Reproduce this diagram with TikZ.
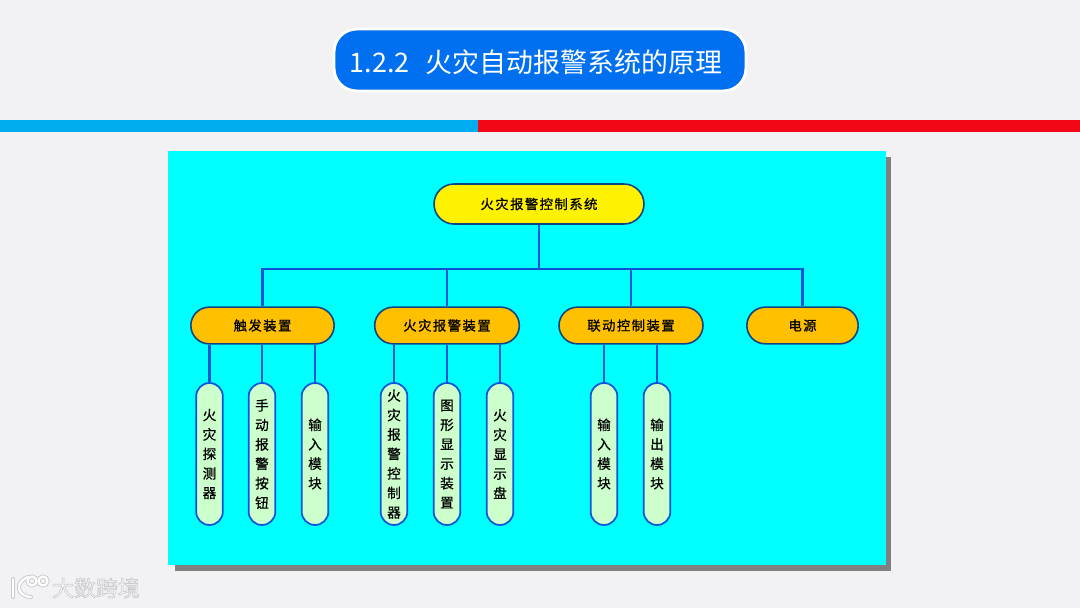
\documentclass[tikz,border=0pt]{standalone}
\usepackage{fontspec}
\usetikzlibrary{shapes.misc}
\setmainfont{Noto Sans CJK SC}
\newfontfamily\titlefont{Noto Sans CJK SC}
\newfontfamily\boxfont[LetterSpace=11,FakeBold=0.9]{Noto Sans CJK SC}
\newfontfamily\colfont[FakeBold=0.7]{Noto Sans CJK SC}
\definecolor{pagebg}{RGB}{242,242,245}
\definecolor{pillblue}{RGB}{0,112,240}
\definecolor{barblue}{RGB}{0,174,239}
\definecolor{barred}{RGB}{240,8,24}
\definecolor{panelcyan}{RGB}{0,255,255}
\definecolor{shadowgray}{RGB}{128,128,128}
\definecolor{linkblue}{RGB}{10,85,215}
\definecolor{edgedark}{RGB}{15,70,130}
\definecolor{amber}{RGB}{255,192,0}
\definecolor{palegreen}{RGB}{204,255,204}
\definecolor{halo}{RGB}{200,200,205}
\tikzset{
  link/.style={draw=linkblue,line width=1.6pt},
  pill/.style={rounded rectangle,draw=edgedark,line width=1.2pt,inner sep=0pt,text=black},
  rootbox/.style={pill,fill=yellow,minimum width=157.5pt,minimum height=30pt,font=\boxfont\fontsize{10pt}{12pt}\selectfont},
  midbox/.style={pill,fill=amber,minimum height=27.5pt,font=\boxfont\fontsize{10pt}{12pt}\selectfont},
  leafbox/.style={rounded rectangle,rotate=90,draw=linkblue,line width=1.3pt,fill=palegreen,minimum width=106.5pt,minimum height=20pt,inner sep=0pt},
  leaftext/.style={align=center,text=black,font=\colfont\fontsize{10.2pt}{14.6pt}\selectfont,inner sep=0pt},
}
\begin{document}
\begin{tikzpicture}[x=0.75pt,y=-0.75pt]
\useasboundingbox (0,0) rectangle (1080,608);
\fill[pagebg] (0,0) rectangle (1080,608);
% title
\node[rounded corners=17pt,fill=pillblue,draw=white,line width=2.2pt,minimum width=309pt,minimum height=46.5pt,inner sep=0pt] (title) at (540,60) {};
\node[text=white,font=\titlefont\fontsize{20.2pt}{24pt}\selectfont,inner sep=0pt] (titletext) at (536,62) {1.2.2\hspace{12pt}火灾自动报警系统的原理};
% bars
\fill[barblue] (0,120) rectangle (478,131.5);
\fill[barred] (478,120) rectangle (1080,131.5);
% panel
\fill[shadowgray] (175,157) rectangle (891,570.5);
\fill[panelcyan] (168,151) rectangle (886,565);
% level 1
\node[rootbox] (root) at (539,204) {火灾报警控制系统};
% level 2
\node[midbox,minimum width=107.5pt] (trig) at (262.5,325.5) {触发装置};
\node[midbox,minimum width=108.5pt] (alarm) at (447,325.5) {火灾报警装置};
\node[midbox,minimum width=108pt] (link) at (631,325.5) {联动控制装置};
\node[midbox,minimum width=83.5pt] (power) at (802.5,325.5) {电源};
% level 3
\foreach \n/\x in {la/209.5,lb/262,lc/315,ld/394,le/447,lf/500,lg/604,lh/657}
  \node[leafbox] (\n) at (\x,454) {};
\node[leaftext] (ta) at (la) {火\\灾\\探\\测\\器};
\node[leaftext] (tb) at (lb) {手\\动\\报\\警\\按\\钮};
\node[leaftext] (tc) at (lc) {输\\入\\模\\块};
\node[leaftext] (td) at (ld) {火\\灾\\报\\警\\控\\制\\器};
\node[leaftext] (te) at (le) {图\\形\\显\\示\\装\\置};
\node[leaftext] (tf) at (lf) {火\\灾\\显\\示\\盘};
\node[leaftext] (tg) at (lg) {输\\入\\模\\块};
\node[leaftext] (th) at (lh) {输\\出\\模\\块};
% connectors
\coordinate (bus) at (539,269);
\draw[link] (root.south) -- (bus);
\draw[link] (trig.north) |- (bus);
\draw[link] (alarm.north) |- (bus);
\draw[link] (link.north) |- (bus);
\draw[link] (power.north) |- (bus);
\foreach \n/\p in {la/trig,lb/trig,lc/trig,ld/alarm,le/alarm,lf/alarm,lg/link,lh/link}
  \draw[link] (\n.east) -- (\n.east |- \p.south);
% watermark
\foreach \c/\w in {halo/3pt,white/1.7pt}{
  \draw[\c,line width=\w,line cap=round] (13,579) -- (13,597);
  \draw[\c,line width=\w,line cap=round] (28,577) .. controls (15,582) and (16,596) .. (31,597);
  \draw[\c,line width=\w] (32,581) circle (4.5);
  \draw[\c,line width=\w] (43,581) circle (4.5);
}
\node[inner sep=0pt,font=\titlefont\fontsize{16.4pt}{18pt}\selectfont,text=white] (mark) at (96,588)
  {\special{pdf:code q 2 Tr 0.78 0.78 0.8 RG 0.5 w 1 1 1 rg}大数跨境\special{pdf:code Q}};
\end{tikzpicture}
\end{document}
